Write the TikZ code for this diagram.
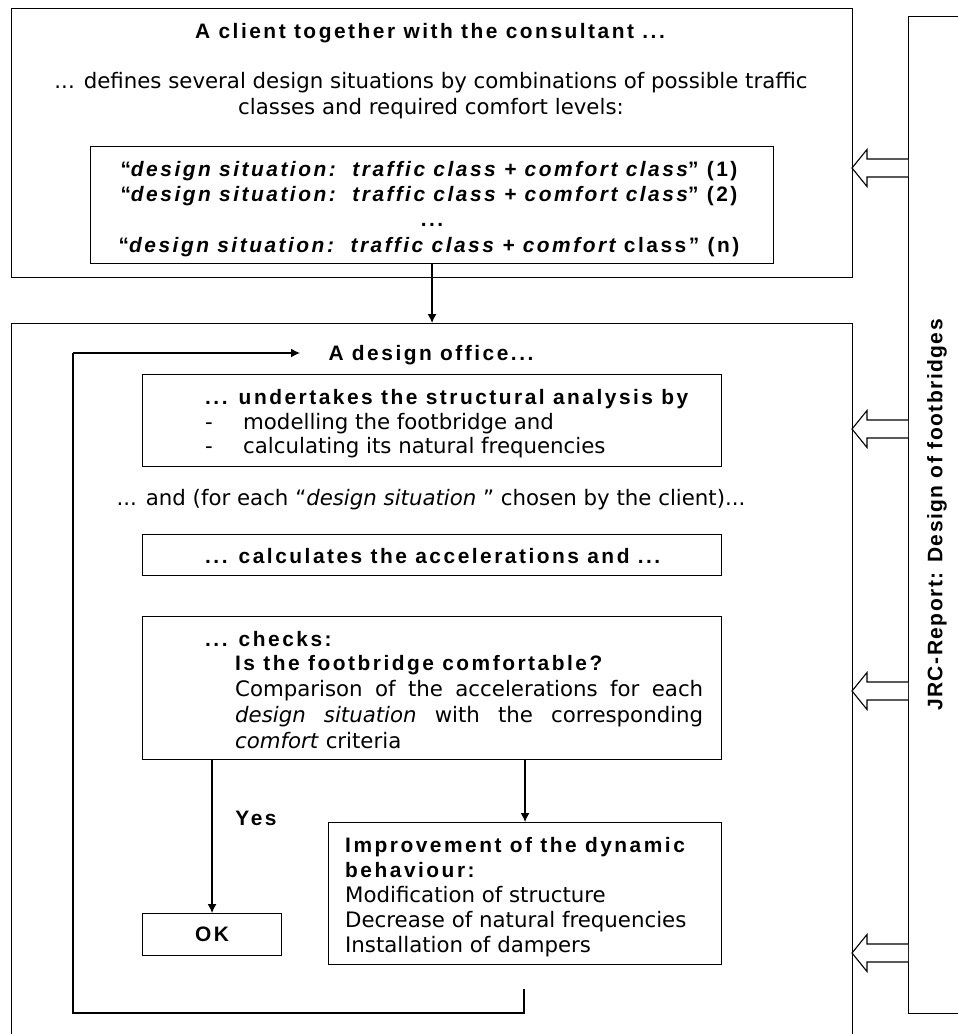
\documentclass[tikz,border=0pt]{standalone}
\usepackage{fontspec}
\usetikzlibrary{arrows.meta}
\setmainfont{DejaVu Sans}
\newfontfamily\bsans[LetterSpace=12]{Liberation Sans}
\newfontfamily\jsans[LetterSpace=7]{Liberation Sans}
\begin{document}
\begin{tikzpicture}[x=1pt,y=-1pt,
  box/.style={draw, line width=1.1pt, inner sep=0, anchor=north west},
  link/.style={line width=1.3pt, -{Latex[length=9pt,width=9pt]}},
  loopline/.style={line width=1.3pt},
  blk/.style={draw, line width=1.1pt, fill=white},
  reg/.style={inner sep=0, font=\fontsize{21.3}{26}\selectfont},
  bld/.style={inner sep=0, font=\fontsize{20.9}{26}\selectfont\bsans\bfseries},
]
\useasboundingbox (0,0) rectangle (958,1034);
\clip (0,0) rectangle (958,1034);
\fill[white] (0,0) rectangle (958,1034);

% ---------- top box ----------
\node[box, minimum width=841pt, minimum height=269pt] (client) at (11,8) {};
\node[bld, anchor=base] (clientT) at (430,38) {A client together with the consultant ...};
\node[reg, anchor=base] (def1) at (431,88) {... defines several design situations by combinations of possible traffic};
\node[reg, anchor=base] (def2) at (431,114) {classes and required comfort levels:};
\node[box, minimum width=683pt, minimum height=117pt] (sit) at (90,146) {};
\node[bld, anchor=base] (s1) at (429,176) {“\itshape design situation:\ \ traffic class + comfort class\upshape” (1)};
\node[bld, anchor=base] (s2) at (429,201) {“\itshape design situation:\ \ traffic class + comfort class\upshape” (2)};
\node[bld, anchor=base] (s3) at (432,226) {...};
\node[bld, anchor=base] (s4) at (429,252) {“\itshape design situation:\ \ traffic class + comfort \upshape class” (n)};

% ---------- design office box ----------
\node[box, minimum width=841pt, minimum height=760pt] (office) at (11,323) {};
\node[bld, anchor=base] (officeT) at (431,360) {A design office...};

\node[box, minimum width=579pt, minimum height=92pt] (analysis) at (142,374) {};
\node[bld, anchor=base west] (a1) at (205,404) {... undertakes the structural analysis by};
\node[reg, anchor=base west] (a2d) at (205,429) {-};
\node[reg, anchor=base west] (a2) at (243,429) {modelling the footbridge and};
\node[reg, anchor=base west] (a3d) at (205,453) {-};
\node[reg, anchor=base west] (a3) at (243,453) {calculating its natural frequencies};

\node[reg, anchor=base] (andT) at (431,505) {... and (for each “\textit{design situation} ” chosen by the client)...};

\node[box, minimum width=579pt, minimum height=41pt] (calc) at (142,534) {};
\node[bld, anchor=base west] (calcT) at (205,563) {... calculates the accelerations and ...};

\node[box, minimum width=579pt, minimum height=143pt] (check) at (142,616) {};
\node[bld, anchor=base west] (c1) at (205,646) {... checks:};
\node[bld, anchor=base west] (c2) at (235,670) {Is the footbridge comfortable?};
\node[reg, anchor=base west] (c3) at (235,696) {\makebox[468pt][s]{Comparison of the accelerations for each}};
\node[reg, anchor=base west] (c4) at (235,722) {\makebox[468pt][s]{\textit{design} \textit{situation} with the corresponding}};
\node[reg, anchor=base west] (c5) at (235,748) {\textit{comfort} criteria};

\node[box, minimum width=139pt, minimum height=42pt] (ok) at (142,913) {};
\node[bld] (okT) at (ok.center) {OK};
\node[bld, anchor=base] (yes) at (256,825) {Yes};

\node[box, minimum width=393pt, minimum height=142pt] (impr) at (328,822) {};
\node[bld, anchor=base west] (i1) at (345,852) {Improvement of the dynamic};
\node[bld, anchor=base west] (i2) at (345,877) {behaviour:};
\node[reg, anchor=base west] (i3) at (345,902) {Modification of structure};
\node[reg, anchor=base west] (i4) at (345,927) {Decrease of natural frequencies};
\node[reg, anchor=base west] (i5) at (345,952) {Installation of dampers};

% ---------- connectors ----------
\draw[link] (sit.south) -- (office.north);
\draw[link] (ok.north |- check.south) -- (ok.north);
\draw[link] (impr.north |- check.south) -- (impr.north);
\coordinate (lpA) at (524,989);
\coordinate (lpB) at (524,1013);
\coordinate (lpC) at (73,1013);
\coordinate (lpD) at (73,353);
\coordinate (lpE) at (300,353);
\draw[loopline] (lpA) -- (lpB) -- (lpC) -- (lpD);
\draw[link] (lpD) -- (lpE);

% ---------- JRC box ----------
\node[box, minimum width=80pt, minimum height=997pt] (jrc) at (908,16) {};
\node[inner sep=0, rotate=90, font=\fontsize{21}{24}\selectfont\jsans\bfseries] (jrcT) at (937,515) {JRC-Report: Design of footbridges};

% ---------- block arrows ----------
\foreach \c/\n in {168/b1,429/b2,691/b3,953/b4}{
  \coordinate (\n) at (852,\c);
  \draw[blk] (908,\c-9) -- (867,\c-9) -- (867,\c-18.5) -- (\n) -- (867,\c+18.5) -- (867,\c+9) -- (908,\c+9);
}
\end{tikzpicture}
\end{document}
